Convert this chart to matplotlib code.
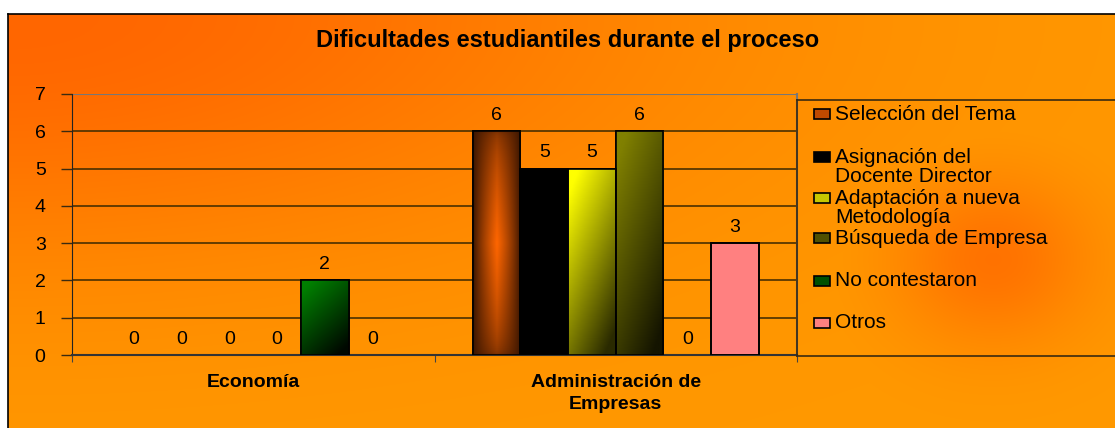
import matplotlib.pyplot as plt
import matplotlib.colors as mcolors
from matplotlib.patches import Rectangle
import numpy as np

plt.rcParams['font.family'] = ['Liberation Sans', 'DejaVu Sans']

categorias = ["Economía", "Administración de\nEmpresas"]
series = ["Selección del Tema", "Asignación del\nDocente Director",
          "Adaptación a nueva\nMetodología", "Búsqueda de Empresa",
          "No contestaron", "Otros"]
valores = [
    [0, 6],
    [0, 5],
    [0, 5],
    [0, 6],
    [2, 0],
    [0, 3],
]

# colores de degradado para cada serie (oscuro, claro)
degradados = [
    ("#3a1500", "#ff6600"),
    ("#000000", "#000000"),
    ("#2a2a00", "#ffff00"),
    ("#141400", "#808000"),
    ("#000800", "#008000"),
    ("#ff8080", "#ff8080"),
]
tipo = ["centro", "plano", "diagonal", "diagonal", "diagonal", "plano"]
color_leyenda = ["#c04a00", "#000000", "#c8c800", "#505000", "#005000", "#ff8080"]

W, H = 1115, 428
fig = plt.figure(figsize=(W / 100, H / 100), dpi=100)
fig.patch.set_facecolor("white")

# fondo naranja con degradado
bg = fig.add_axes([8 / W, 0, 1 - 8 / W, 1 - 14 / H])
yy, xx = np.mgrid[0:414, 0:1107]
d1 = np.exp(-((xx / 650.0) ** 2 + (yy / 250.0) ** 2))
d2 = np.exp(-(((xx - 985) / 100.0) ** 2 + ((yy - 245) / 85.0) ** 2))
t = np.clip(np.maximum(d1, d2 * 0.75), 0, 1)
c_claro = np.array(mcolors.to_rgb("#ff9900"))
c_osc = np.array(mcolors.to_rgb("#ff6600"))
img = c_claro[None, None, :] * (1 - t[..., None]) + c_osc[None, None, :] * t[..., None]
bg.imshow(img, aspect="auto", extent=[0, 1, 0, 1], origin="upper")
bg.set_xlim(0, 1)
bg.set_ylim(0, 1)
bg.set_xticks([])
bg.set_yticks([])
for lado in ["right", "bottom"]:
    bg.spines[lado].set_visible(False)
for lado in ["left", "top"]:
    bg.spines[lado].set_color("black")
    bg.spines[lado].set_linewidth(1.2)

fig.text(568 / W, 1 - 41 / H, "Dificultades estudiantiles durante el proceso",
         ha="center", va="center", fontsize=17, fontweight="bold")

ax = fig.add_axes([72 / W, 73 / H, 725 / W, 261 / H])
ax.patch.set_alpha(0)
x = np.arange(len(categorias))
n = len(series)
ancho = 0.1315


def degradado(ax, barra, osc, cla, modo):
    xb, yb = barra.get_x(), barra.get_y()
    wb, hb = barra.get_width(), barra.get_height()
    if hb <= 0 or modo == "plano":
        return
    gy, gx = np.mgrid[0:1:100j, 0:1:50j]
    if modo == "centro":
        h = 1 - np.abs(gx - 0.5) * 2
        v = 1 - np.abs(gy - 0.5) * 2
        t = np.clip(h ** 0.8 * (0.35 + 0.65 * v ** 0.6), 0, 1)
    else:
        t = np.clip((1 - gx) * 0.45 + (1 - gy) * 0.75 - 0.1, 0, 1)
    a = np.array(mcolors.to_rgb(osc))
    b = np.array(mcolors.to_rgb(cla))
    im = a[None, None, :] * (1 - t[..., None]) + b[None, None, :] * t[..., None]
    imagen = ax.imshow(im, extent=[xb, xb + wb, yb, yb + hb], origin="upper",
                       aspect="auto", zorder=3)
    imagen.set_clip_path(barra)


for i in range(n):
    pos = x + (i - (n - 1) / 2) * ancho
    barras = ax.bar(pos, valores[i], ancho, color=degradados[i][1],
                    edgecolor="black", linewidth=1.2, zorder=3)
    for b in barras:
        degradado(ax, b, degradados[i][0], degradados[i][1], tipo[i])
        if b.get_height() > 0:
            ax.add_patch(Rectangle((b.get_x(), b.get_y()), b.get_width(), b.get_height(),
                                   fill=False, edgecolor="black", linewidth=1.2, zorder=4))
        else:
            b.set_edgecolor("none")
    for p, v in zip(pos, valores[i]):
        ax.text(p, v + 0.2, str(v), ha="center", va="bottom", fontsize=14, zorder=5)

ax.set_xlim(-0.5, 1.5)
ax.set_ylim(0, 7)
ax.set_yticks(range(8))
ax.set_yticklabels([str(k) for k in range(8)], fontsize=14)
ax.tick_params(axis="y", length=8, width=1, color="#3a2a10", pad=11)
ax.set_xticks([-0.5, 0.5, 1.5])
ax.set_xticklabels([])
ax.tick_params(axis="x", direction="out", length=5, color="#444444")
for k in range(1, 7):
    ax.axhline(k, color="#4a3000", linewidth=1.2, zorder=1)
ax.axhline(7, color="#777777", linewidth=1.5, zorder=1)
ax.spines["top"].set_visible(False)
ax.spines["right"].set_color("#777777")
ax.spines["right"].set_linewidth(1.5)
ax.spines["left"].set_color("#222222")
ax.spines["bottom"].set_color("#333333")
ax.spines["bottom"].set_linewidth(1.5)

for xi, etiqueta in zip(x, categorias):
    ax.text(xi, -0.5, etiqueta, ha="center", va="top", fontsize=14,
            fontweight="bold", linespacing=1.4)

# leyenda
leg_ax = fig.add_axes([797 / W, 72 / H, 330 / W, 256 / H])
leg_ax.patch.set_alpha(0)
leg_ax.set_xlim(0, 330)
leg_ax.set_ylim(256, 0)
leg_ax.set_xticks([])
leg_ax.set_yticks([])
for lado in ["left", "bottom", "top"]:
    leg_ax.spines[lado].set_color("#3a2a10")
    leg_ax.spines[lado].set_linewidth(1.2)
leg_ax.spines["right"].set_visible(False)
ys = [14, 57, 98, 138, 181, 223]
for yv, nombre, col in zip(ys, series, color_leyenda):
    leg_ax.add_patch(Rectangle((17, yv - 5), 16, 10, facecolor=col,
                               edgecolor="black", linewidth=1.2))
    yt = yv + 10 if "\n" in nombre else yv
    leg_ax.text(38, yt, nombre, ha="left", va="center", fontsize=15, linespacing=0.95)

plt.savefig("out.png", dpi=100)
